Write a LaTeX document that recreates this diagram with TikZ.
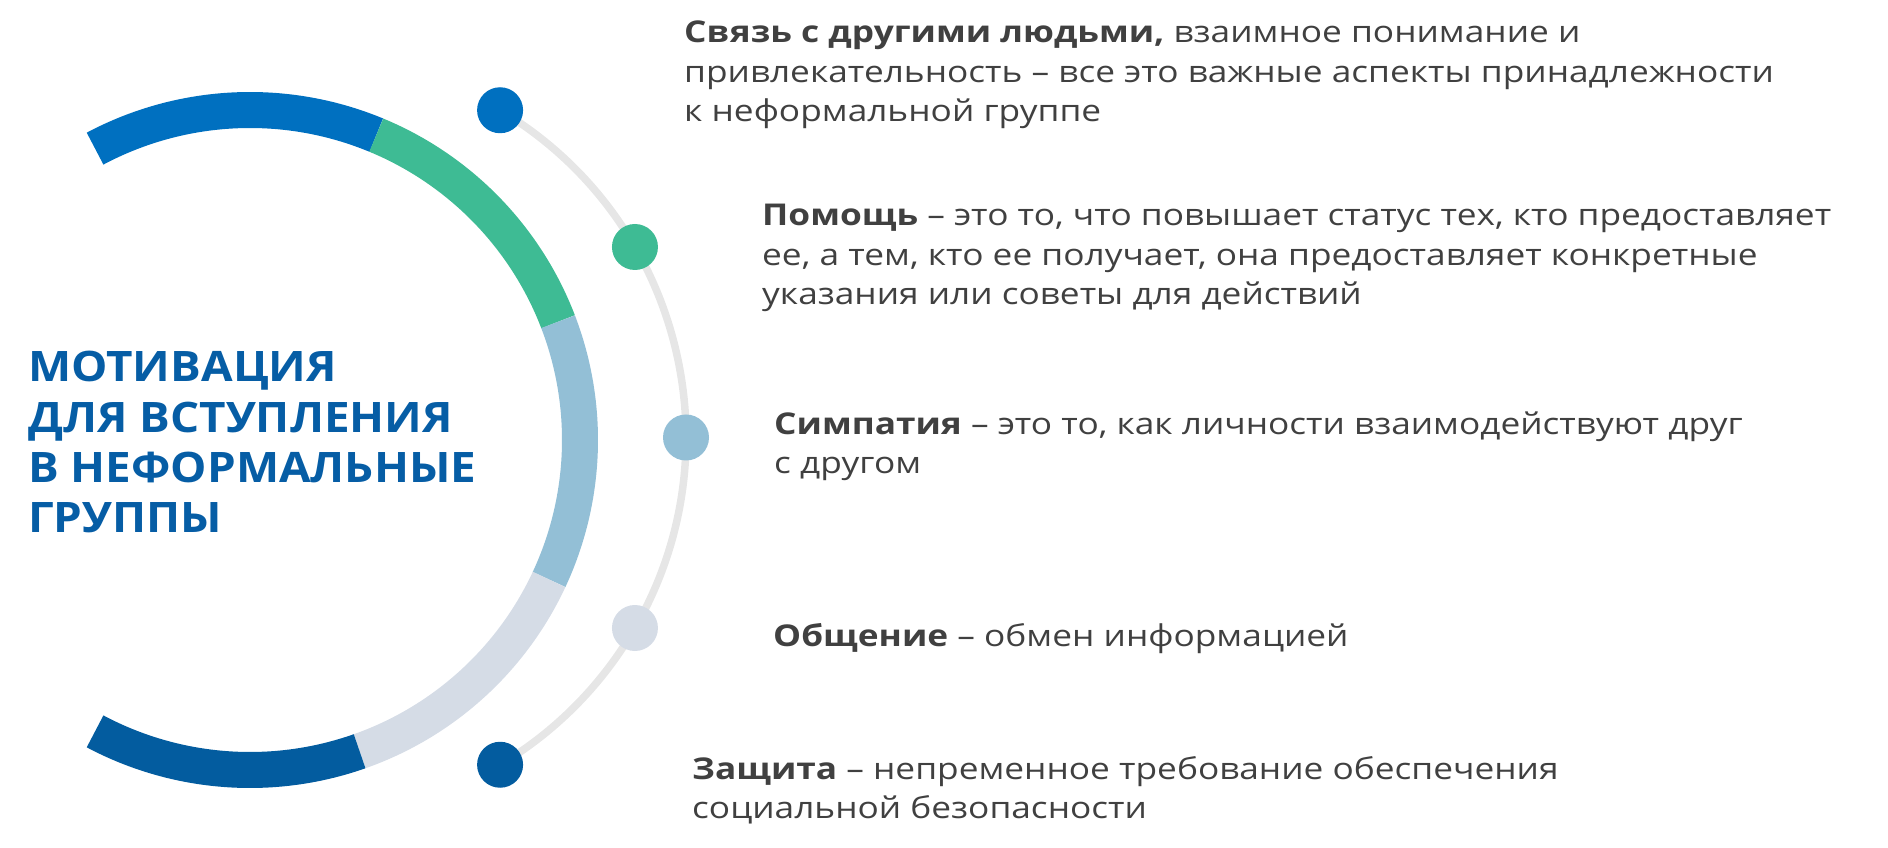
\documentclass[tikz,border=0pt]{standalone}
\usepackage{fontspec}
\setmainfont{Open Sans}[FakeStretch=1.175]
\newfontfamily\titlefont{Open Sans}[FakeStretch=1.09]
\definecolor{cblue}{HTML}{0070C0}
\definecolor{cgreen}{HTML}{3EBB94}
\definecolor{clight}{HTML}{93BFD6}
\definecolor{cgrey}{HTML}{D5DCE6}
\definecolor{cdark}{HTML}{035C9F}
\definecolor{cline}{HTML}{E6E6E6}
\definecolor{ctext}{HTML}{404040}
\definecolor{ctitle}{HTML}{065DA5}
\tikzset{
  ring/.style={line width=36pt, line cap=butt},
  dotnode/.style={circle, minimum size=46pt, inner sep=0pt, draw=none},
  txt/.style={anchor=base west, inner sep=0pt, text=ctext, font=\fontsize{30}{39.5}\selectfont},
  ttl/.style={anchor=base west, inner sep=0pt, text=ctitle, font=\titlefont\bfseries\fontsize{42}{51}\selectfont},
}
\begin{document}
\begin{tikzpicture}[x=1pt,y=1pt]
\useasboundingbox (0,0) rectangle (1888,847);
% big ring
\coordinate (rc) at (250,407);
\draw[ring, cblue]  ([shift={(118:330)}]rc) arc[start angle=118, end angle=67.5, radius=330];
\draw[ring, cgreen] ([shift={(67.5:330)}]rc) arc[start angle=67.5, end angle=21, radius=330];
\draw[ring, clight] ([shift={(21:330)}]rc) arc[start angle=21, end angle=-25, radius=330];
\draw[ring, cgrey]  ([shift={(-25:330)}]rc) arc[start angle=-25, end angle=-70.6, radius=330];
\draw[ring, cdark]  ([shift={(-70.6:330)}]rc) arc[start angle=-70.6, end angle=-118, radius=330];
% dots
\coordinate (dc) at (305,409.5);
\node[dotnode] (d1) at ([shift={(59.2:381)}]dc) {};
\node[dotnode] (d2) at ([shift={(30:381)}]dc) {};
\node[dotnode] (d3) at ([shift={(0:381)}]dc) {};
\node[dotnode] (d4) at ([shift={(-30:381)}]dc) {};
\node[dotnode] (d5) at ([shift={(-59.2:381)}]dc) {};
\draw[cline, line width=7.5pt] (d1.center) arc[start angle=59.2, end angle=-59.2, radius=381];
\fill[cblue]  (d1) circle[radius=23];
\fill[cgreen] (d2) circle[radius=23];
\fill[clight] (d3) circle[radius=23];
\fill[cgrey]  (d4) circle[radius=23];
\fill[cdark]  (d5) circle[radius=23];
% title
\node[ttl] (t1) at (28,465) {МОТИВАЦИЯ};
\node[ttl] (t2) at (28,414) {ДЛЯ ВСТУПЛЕНИЯ};
\node[ttl] (t3) at (28,364) {В НЕФОРМАЛЬНЫЕ};
\node[ttl] (t4) at (28,314) {ГРУППЫ};
% texts
\node[txt] (a1) at (684,804) {\textbf{Связь с другими людьми,} взаимное понимание и};
\node[txt] (a2) at (684,764.5) {привлекательность – все это важные аспекты принадлежности};
\node[txt] (a3) at (684,725) {к неформальной группе};
\node[txt] (b1) at (762,621) {\textbf{Помощь} – это то, что повышает статус тех, кто предоставляет};
\node[txt] (b2) at (762,581.5) {ее, а тем, кто ее получает, она предоставляет конкретные};
\node[txt] (b3) at (762,542) {указания или советы для действий};
\node[txt] (c1) at (774,412) {\textbf{Симпатия} – это то, как личности взаимодействуют друг};
\node[txt] (c2) at (774,373) {с другом};
\node[txt] (e1) at (773,201) {\textbf{Общение} – обмен информацией};
\node[txt] (f1) at (692,68) {\textbf{Защита} – непременное требование обеспечения};
\node[txt] (f2) at (692,29) {социальной безопасности};
\end{tikzpicture}
\end{document}
